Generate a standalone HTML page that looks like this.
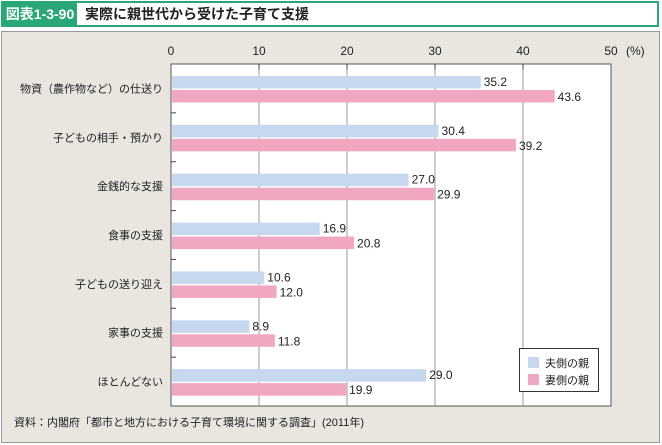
<!DOCTYPE html>
<html><head><meta charset="utf-8"><style>
body{margin:0;width:662px;height:445px;background:#fff;font-family:"Liberation Sans","Noto Sans CJK JP",sans-serif;position:relative;overflow:hidden}
#hdr{position:absolute;left:1px;top:1px;width:658px;height:26px;border:2px solid #2aa778;box-sizing:border-box;background:#fff}
#tag{position:absolute;left:3px;top:3px;width:74px;height:22px;background:#2aa778;color:#fff;font-weight:bold;font-size:14px;line-height:22px;text-align:center}
#ttl{position:absolute;left:85px;top:3px;font-weight:bold;font-size:14px;line-height:22px;color:#222}
#panel{position:absolute;left:1px;top:31px;width:659px;height:412px;background:#e8e6df;border:1px solid #999;box-sizing:border-box}
svg{position:absolute;left:0;top:0}
</style></head><body>
<div id="hdr"></div>
<div id="tag">図表1-3-90</div>
<div id="ttl">実際に親世代から受けた子育て支援</div>
<div id="panel"></div>
<svg id="c" width="662" height="445"></svg>
<script>
const categories=["物資（農作物など）の仕送り","子どもの相手・預かり","金銭的な支援","食事の支援","子どもの送り迎え","家事の支援","ほとんどない"];
const husbandVals=[35.2,30.4,27.0,16.9,10.6,8.9,29.0];
const wifeVals=[43.6,39.2,29.9,20.8,12.0,11.8,19.9];
const ticks=[0,10,20,30,40,50];
const L=171,R=611,T=64,B=406,MAX=50;
const x=v=>L+(R-L)*v/MAX;
const band=(B-T)/categories.length;
const svg=document.getElementById('c');
const NS='http://www.w3.org/2000/svg';
function mk(t,a,txt){const e=document.createElementNS(NS,t);for(const k in a)e.setAttribute(k,a[k]);if(txt!=null)e.textContent=txt;svg.appendChild(e);return e;}
let e=mk('rect',{x:L,y:T,width:R-L,height:B-T,fill:'#fff',stroke:'#555','stroke-width':1});


ticks.forEach(t=>{
  if(t>0&&t<MAX){e=mk('line',{x1:x(t),x2:x(t),y1:T,y2:B,stroke:'#999','stroke-width':1});
  
  
  mk('line',{x1:x(t),x2:x(t),y1:T,y2:T+5,stroke:'#444','stroke-width':1});}
  e=mk('text',{x:x(t),y:55,'text-anchor':'middle','font-size':12,fill:'#222'},String(t));
  
  
});
e=mk('text',{x:626,y:55,'font-size':12,fill:'#222'},'(%)');


categories.forEach((c,i)=>{
  const y0=T+band*i;
  if(i>0)mk('line',{x1:L,x2:L+5,y1:y0,y2:y0,stroke:'#444'});
  e=mk('text',{x:163,y:y0+band/2+4,'text-anchor':'end','font-size':11,fill:'#222'},c);
  
  
  e=mk('rect',{x:L+1,y:y0+12,width:x(husbandVals[i])-L-1,height:12.5,fill:'#c6d7ee'});
  
  
  e=mk('rect',{x:L+1,y:y0+26,width:x(wifeVals[i])-L-1,height:12.5,fill:'#f1a7c1'});
  
  
  e=mk('text',{x:x(husbandVals[i])+3,y:y0+22,'font-size':12,fill:'#222'},husbandVals[i].toFixed(1));
  
  
  e=mk('text',{x:x(wifeVals[i])+3,y:y0+37,'font-size':12,fill:'#222'},wifeVals[i].toFixed(1));
  
  
});
e=mk('rect',{x:519.5,y:348.5,width:79,height:43,fill:'#fff',stroke:'#333'});


mk('rect',{x:528,y:357,width:11,height:11,fill:'#c6d7ee'});
mk('rect',{x:528,y:374,width:11,height:11,fill:'#f1a7c1'});
e=mk('text',{x:545,y:367,'font-size':11,fill:'#222'},'夫側の親');


e=mk('text',{x:545,y:384,'font-size':11,fill:'#222'},'妻側の親');


e=mk('text',{x:14,y:426,'font-size':11,fill:'#222'},'資料：内閣府「都市と地方における子育て環境に関する調査」(2011年)');


</script>
</body></html>
